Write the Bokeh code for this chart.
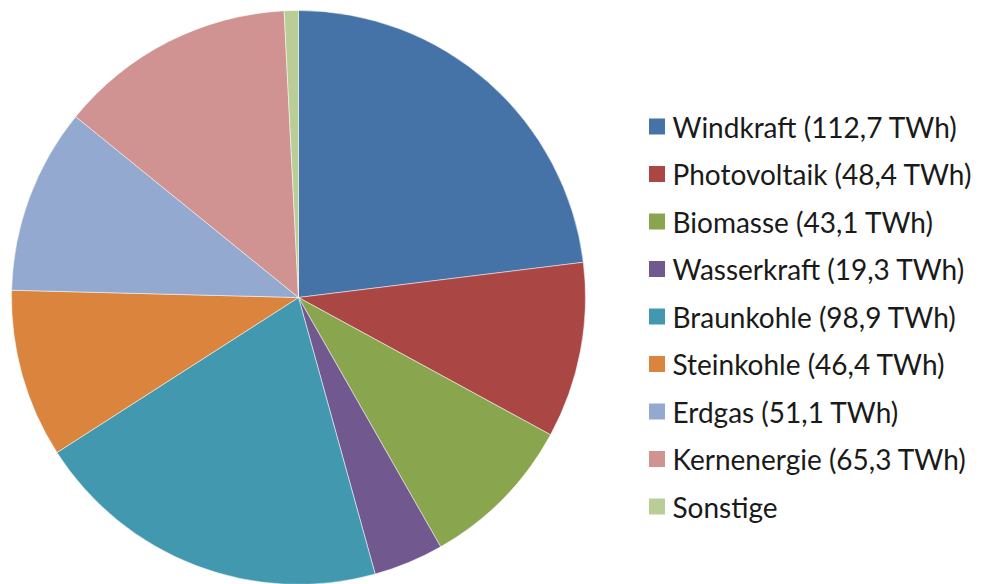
import math
from bokeh.plotting import figure
from bokeh.models import ColumnDataSource, Range1d
from bokeh.core.properties import value
from bokeh.embed import file_html
from bokeh.resources import INLINE

# ---- data ----
sources = ["Windkraft", "Photovoltaik", "Biomasse", "Wasserkraft", "Braunkohle",
           "Steinkohle", "Erdgas", "Kernenergie", "Sonstige"]
twh = [112.7, 48.4, 43.1, 19.3, 98.9, 46.4, 51.1, 65.3, 3.9]
show_value = [True, True, True, True, True, True, True, True, False]
colors = ["#4572A7", "#AA4643", "#89A54E", "#71588F", "#4198AF",
          "#DB843D", "#93A9CF", "#D19392", "#B9CD96"]

W, H = 983, 584
p = figure(width=W, height=H, output_backend="svg", toolbar_location=None,
           x_range=Range1d(0, W), y_range=Range1d(0, H), min_border=0)
p.axis.visible = False
p.grid.visible = False
p.outline_line_color = None
p.background_fill_color = "white"

total = sum(twh)
starts, ends = [], []
a = math.pi / 2
for v in twh:
    da = 2 * math.pi * v / total
    starts.append(a)
    ends.append(a - da)
    a -= da

cx, cy, r = 298, H - 297, 287
src = ColumnDataSource(dict(start=starts, end=ends, color=colors))
p.wedge(x=cx, y=cy, radius=r, start_angle="start", end_angle="end",
        direction="clock", fill_color="color", line_color="white",
        line_alpha=0.5, line_width=1, source=src)

def fmt(v):
    return ("%.1f" % v).replace(".", ",")

labels = [f"{s} ({fmt(v)} TWh)" if sv else s for s, v, sv in zip(sources, twh, show_value)]
ys = [H - (126 + 47.5 * i) for i in range(len(sources))]
leg = ColumnDataSource(dict(y=ys, label=labels, color=colors))
p.rect(x=656.5, y="y", width=16, height=16, width_units="screen", height_units="screen",
       fill_color="color", line_color=None, source=leg)
p.text(x=672, y="y", text="label", text_font=value("Lato"), text_font_size="28px",
       text_color="#1a1a1a", text_baseline="middle", text_align="left", source=leg)

open("out.html", "w").write(file_html(p, INLINE))
